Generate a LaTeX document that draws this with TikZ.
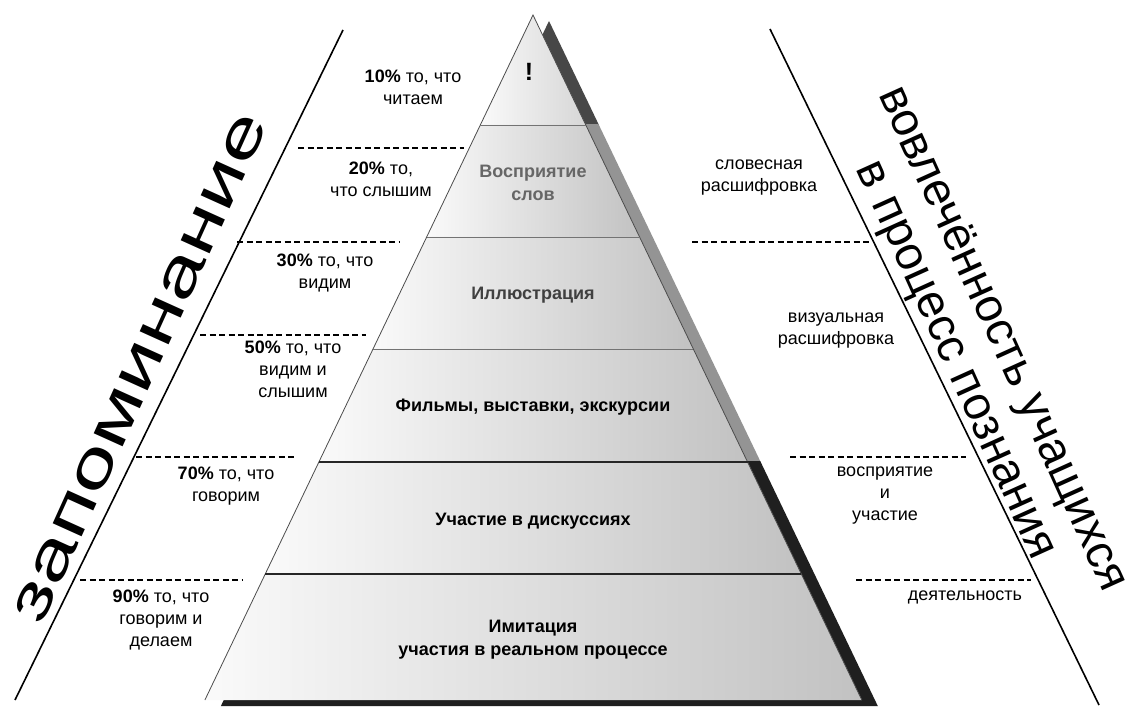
\documentclass[tikz,border=0pt]{standalone}
\usepackage{fontspec}
\setmainfont{Liberation Sans}
\begin{document}
\begin{tikzpicture}[x=1pt,y=-1pt,
  dashln/.style={draw=black, line width=1.1pt, dash pattern=on 6pt off 3.5pt},
  slantln/.style={draw=black, line width=1.6pt},
  small/.style={font=\fontsize{18}{22}\selectfont, align=center, inner sep=0pt},
  lvl/.style={font=\bfseries\fontsize{18}{23}\selectfont, align=center, inner sep=0pt},
  lvlfill/.style={left color=gray!4, right color=gray!48},
  divlight/.style={draw=black!55, line width=0.8pt},
  divdark/.style={draw=black!85, line width=1.2pt},
  bigL/.style={font=\fontsize{60}{60}\selectfont, inner sep=0pt},
  bigR/.style={font=\fontsize{47}{51}\selectfont, align=center, inner sep=0pt}
]
\useasboundingbox (0,0) rectangle (1133,708);
\fill[white] (0,0) rectangle (1133,708);

% pyramid points
\coordinate (A) at (533,15);
\coordinate (L1) at (480.3,125); \coordinate (R1) at (585.8,125);
\coordinate (L2) at (426.7,237); \coordinate (R2) at (639.6,237);
\coordinate (L3) at (373.0,349); \coordinate (R3) at (693.3,349);
\coordinate (L4) at (318.9,462); \coordinate (R4) at (747.6,462);
\coordinate (L5) at (265.2,574); \coordinate (R5) at (801.3,574);
\coordinate (L6) at (204.9,700); \coordinate (R6) at (861.8,700);
% shadow points
\coordinate (SA) at (549,21);
\coordinate (SL) at (220.9,706);
\coordinate (SR) at (877.8,706);

% shadow bands
\begin{scope}
  \clip (0,0) rectangle (1133,125);
  \fill[black!72] (SA) -- (SR) -- (SL) -- cycle;
\end{scope}
\begin{scope}
  \clip (0,125) rectangle (1133,462);
  \fill[black!42] (SA) -- (SR) -- (SL) -- cycle;
\end{scope}
\begin{scope}
  \clip (0,462) rectangle (1133,708);
  \fill[black!88] (SA) -- (SR) -- (SL) -- cycle;
\end{scope}

% pyramid levels
\shade[left color=gray!4, right color=gray!32] (A) -- (R1) -- (L1) -- cycle;
\shade[lvlfill] (L1) -- (R1) -- (R2) -- (L2) -- cycle;
\shade[lvlfill] (L2) -- (R2) -- (R3) -- (L3) -- cycle;
\shade[lvlfill] (L3) -- (R3) -- (R4) -- (L4) -- cycle;
\shade[lvlfill] (L4) -- (R4) -- (R5) -- (L5) -- cycle;
\shade[lvlfill] (L5) -- (R5) -- (R6) -- (L6) -- cycle;
\draw[black!70, line width=0.8pt] (R6) -- (A) -- (L6);
\draw[divlight] (L1) -- (R1);
\draw[divlight] (L2) -- (R2);
\draw[divlight] (L3) -- (R3);
\draw[divdark] (L4) -- (R4);
\draw[divdark] (L5) -- (R5);

% pyramid labels
\node[lvl, font=\bfseries\fontsize{25}{25}\selectfont] (t0) at (529,72) {!};
\node[lvl, text=black!60] (t1) at (533,183) {Восприятие\\слов};
\node[lvl, text=black!75] (t2) at (533,295) {Иллюстрация};
\node[lvl] (t3) at (533,407) {Фильмы, выставки, экскурсии};
\node[lvl] (t4) at (533,521) {Участие в дискуссиях};
\node[lvl] (t5) at (533,640) {Имитация\\участия в реальном процессе};

% slanted lines
\coordinate (LT) at (343,30); \coordinate (LB) at (15,700);
\coordinate (RT) at (770,29); \coordinate (RB) at (1099,705);
\draw[slantln] (LB) -- (LT);
\draw[slantln] (RT) -- (RB);

% left dashed lines
\coordinate (a1) at (298,148); \coordinate (b1) at (464,148);
\coordinate (a2) at (237,242); \coordinate (b2) at (400,242);
\coordinate (a3) at (200,335); \coordinate (b3) at (366,335);
\coordinate (a4) at (136,457); \coordinate (b4) at (296,457);
\coordinate (a5) at (80,580);  \coordinate (b5) at (243,580);
\draw[dashln] (a1) -- (b1);
\draw[dashln] (a2) -- (b2);
\draw[dashln] (a3) -- (b3);
\draw[dashln] (a4) -- (b4);
\draw[dashln] (a5) -- (b5);

% right dashed lines
\coordinate (c1) at (692,242); \coordinate (e1) at (869,242);
\coordinate (c2) at (790,457); \coordinate (e2) at (966,457);
\coordinate (c3) at (856,580); \coordinate (e3) at (1031,580);
\draw[dashln] (c1) -- (e1);
\draw[dashln] (c2) -- (e2);
\draw[dashln] (c3) -- (e3);

% left texts
\node[small] (p10) at (413,87) {\textbf{10\%} то, что\\читаем};
\node[small] (p20) at (381,179) {\textbf{20\%} то,\\что слышим};
\node[small] (p30) at (325,273) {\textbf{30\%} то, что\\видим};
\node[small] (p50) at (293,369) {\textbf{50\%} то, что\\видим и\\слышим};
\node[small] (p70) at (226,486) {\textbf{70\%} то, что\\говорим};
\node[small] (p90) at (161,620) {\textbf{90\%} то, что\\говорим и\\делаем};

% right texts
\node[small] (r1) at (759,178) {словесная\\расшифровка};
\node[small] (r2) at (836,331) {визуальная\\расшифровка};
\node[small] (r3) at (885,496) {восприятие\\и\\участие};
\node[small] (r4) at (965,597) {деятельность};

% big rotated texts
\node[bigL, rotate=65.7, xscale=1.5] (mem) at (141,368) {запоминание};
\node[bigR, rotate=-65.7] (inv) at (978,350) {вовлечённость учащихся\\в процесс познания};
\end{tikzpicture}
\end{document}
